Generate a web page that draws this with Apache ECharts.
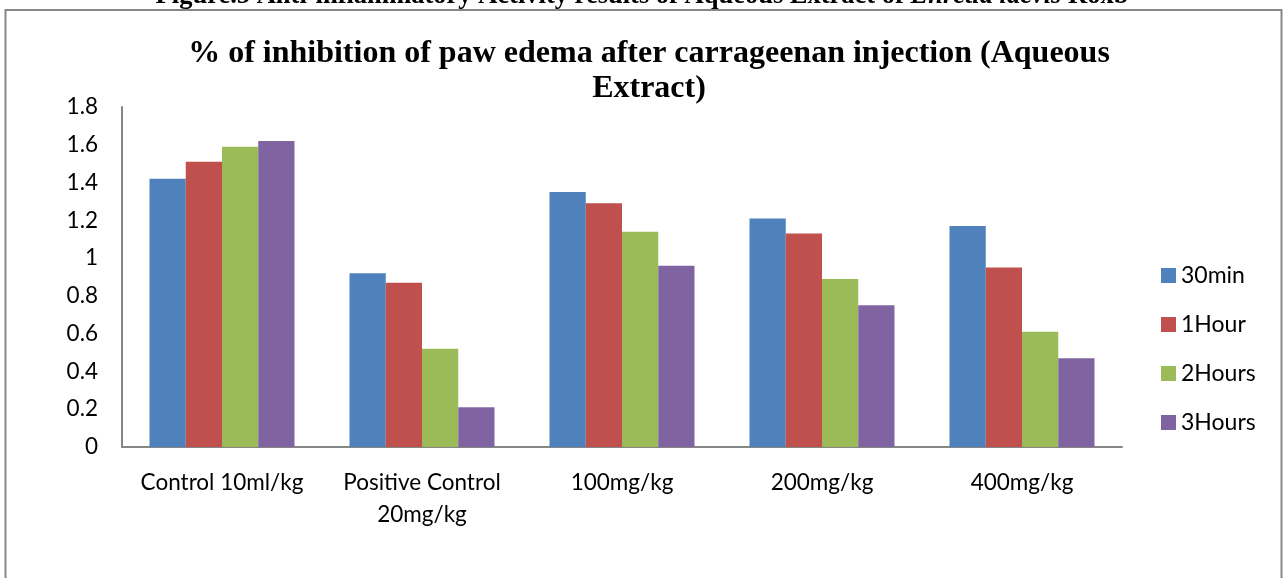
<!DOCTYPE html>
<html>
<head>
<meta charset="utf-8">
<script src="https://cdn.jsdelivr.net/npm/echarts@6/dist/echarts.min.js"></script>
<style>html,body{margin:0;padding:0;background:#fff;}#c{width:1284px;height:578px;}</style>
</head>
<body>
<div id="c"></div>
<script>
const categories = ['Control 10ml/kg', 'Positive Control\n20mg/kg', '100mg/kg', '200mg/kg', '400mg/kg'];
const seriesNames = ['30min', '1Hour', '2Hours', '3Hours'];
const min30 = [1.42, 0.92, 1.35, 1.21, 1.17];
const hour1 = [1.51, 0.87, 1.29, 1.13, 0.95];
const hours2 = [1.59, 0.52, 1.14, 0.89, 0.61];
const hours3 = [1.62, 0.21, 0.96, 0.75, 0.47];
const colors = ['#4F81BD', '#C0504D', '#9BBB59', '#8064A2'];
const titleText = '% of inhibition of paw edema after carrageenan injection (Aqueous\nExtract)';

const chart = echarts.init(document.getElementById('c'), null, {renderer: 'canvas'});
const allData = [min30, hour1, hours2, hours3];
const labelFont = 'Lato, "Open Sans", sans-serif';

chart.setOption({
  animation: false,
  color: colors,
  title: {
    text: titleText,
    left: 644,
    top: 31,
    textAlign: 'center',
    textStyle: {fontFamily: '"Liberation Serif", "Times New Roman", serif', fontWeight: 'bold', fontSize: 32, lineHeight: 35, color: '#000'}
  },
  graphic: [
    {
      type: 'text', left: 'center', top: -17, z: 1,
      style: {
        text: '{b|Figure.5 Anti-inflammatory Activity results of Aqueous Extract of }{i|Ehretia laevis}{b| Roxb}',
        rich: {
          b: {fontFamily: '"Liberation Serif", serif', fontWeight: 'bold', fontSize: 26.5, fill: '#000'},
          i: {fontFamily: '"Liberation Serif", serif', fontWeight: 'bold', fontStyle: 'italic', fontSize: 26.5, fill: '#000'}
        }
      }
    },
    {
      type: 'rect', z: 2, silent: true,
      shape: {x: 0, y: 10, width: 1284, height: 14},
      style: {fill: '#fff'}
    },
    {
      type: 'rect', z: 3, silent: true,
      shape: {x: 5.5, y: 10, width: 1276, height: 600},
      style: {fill: 'none', stroke: '#878787', lineWidth: 2}
    }
  ],
  legend: {
    orient: 'vertical',
    left: 1156,
    top: 259,
    itemWidth: 15,
    itemHeight: 15,
    itemGap: 26,
    icon: 'rect',
    data: seriesNames,
    textStyle: {fontFamily: labelFont, fontSize: 23, lineHeight: 22, color: '#000', padding: [0, 0, 0, 0]}
  },
  grid: {left: 122, right: 162, top: 107, bottom: 131, containLabel: false},
  xAxis: {
    type: 'category',
    data: categories,
    axisLine: {lineStyle: {color: '#868686', width: 2}},
    axisTick: {show: false},
    axisLabel: {fontFamily: labelFont, fontSize: 22.5, lineHeight: 32, color: '#000', margin: 20, interval: 0}
  },
  yAxis: {
    type: 'value',
    min: 0, max: 1.8, interval: 0.2,
    axisLine: {show: true, lineStyle: {color: '#868686', width: 2}},
    axisTick: {show: false},
    splitLine: {show: false},
    axisLabel: {fontFamily: labelFont, fontSize: 22.5, color: '#000', margin: 24,
      formatter: v => String(Math.round(v * 10) / 10)}
  },
  series: seriesNames.map((n, i) => ({
    name: n,
    type: 'bar',
    data: allData[i],
    barGap: '0%',
    barCategoryGap: '27.5%',
    itemStyle: {color: colors[i]}
  }))
});
</script>
</body>
</html>
